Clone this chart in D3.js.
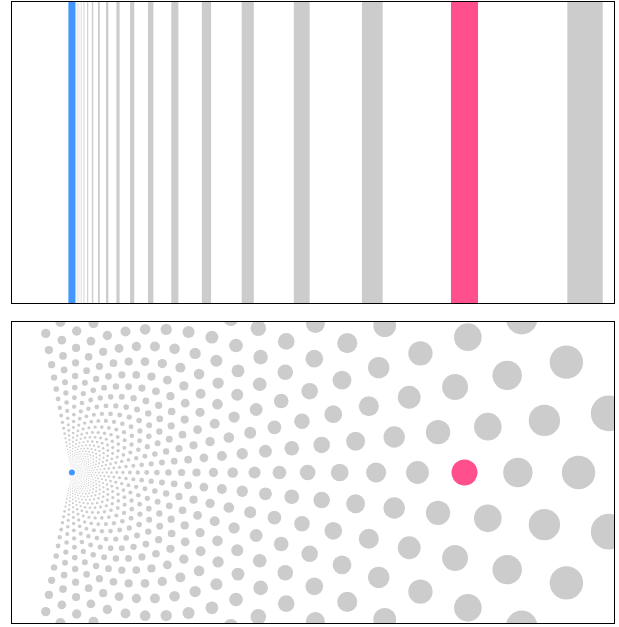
<!DOCTYPE html>
<html>
<head>
<meta charset="utf-8">
<script src="https://cdn.jsdelivr.net/npm/d3@7"></script>
<style>
html,body{margin:0;padding:0;background:#fff;}
svg{display:block;}
</style>
</head>
<body>
<svg id="chart" width="619" height="627"></svg>
<script>
// ---- data ----
// top: bars at geometric distances ratio^step from the fixed point (blue); step 0 = highlighted (pink)
const barSteps = [-20,-19,-18,-17,-16,-15,-14,-13,-12,-11,-10,-9,-8,-7,-6,-5,-4,-3,-2,-1,0,1,2];
const barRatio = 1.307;          // distance ratio between neighbouring bars
const barWidthFrac = 0.069;      // bar width as a fraction of its distance
const highlightStep = 0;

// bottom: hexagonal lattice in log-polar coordinates around the fixed point
const dotRows = [-16,-15,-14,-13,-12,-11,-10,-9,-8,-7,-6,-5,-4,-3,-2,-1,0,1,2,3,4,5,6,7,8,9,10,11,12,13,14,15,16];
const ringMin = -120, ringMax = 14;   // half-step ring indices
const ringRatio = 1.136;         // distance ratio between dots of the same row
const rowAngleDeg = 6.29;        // angle between neighbouring rows
const dotSizeFrac = 0.033;       // dot radius as a fraction of its distance

const colors = {grey: "#cccccc", blue: "#4196ff", pink: "#ff4f8c", border: "#000"};

// ---- layout ----
const svg = d3.select("#chart");
const panelX = 11.5, panelW = 603, panelH = 302;
const panels = [{y: 1.5}, {y: 321.5}];

// x scale: 0 = fixed point (10% of width), 1 = highlighted item (75% of width)
const x = d3.scaleLinear().domain([0, 1]).range([panelX + 0.1 * (panelW + 1), panelX + 0.75 * (panelW + 1)]);
const dist = d3.scaleLinear().domain([0, 1]).range([0, x(1) - x(0)]);

const defs = svg.append("defs");
panels.forEach((p, i) => {
  defs.append("clipPath").attr("id", "clip" + i)
    .append("rect").attr("x", panelX).attr("y", p.y).attr("width", panelW).attr("height", panelH);
});

// ---- top panel ----
const gTop = svg.append("g").attr("clip-path", "url(#clip0)");
const bars = barSteps.map(s => ({step: s, v: Math.pow(barRatio, s)}));
gTop.selectAll("rect.bar").data(bars.filter(d => d.step !== highlightStep)).join("rect")
  .attr("class", "bar")
  .attr("x", d => x(d.v) - barWidthFrac * dist(d.v) / 2)
  .attr("width", d => barWidthFrac * dist(d.v))
  .attr("y", panels[0].y).attr("height", panelH)
  .attr("fill", colors.grey);
gTop.selectAll("rect.hl").data(bars.filter(d => d.step === highlightStep)).join("rect")
  .attr("class", "hl")
  .attr("x", d => x(d.v) - barWidthFrac * dist(d.v) / 2)
  .attr("width", d => barWidthFrac * dist(d.v))
  .attr("y", panels[0].y).attr("height", panelH)
  .attr("fill", colors.pink);
gTop.append("rect")
  .attr("x", x(0) - 3.5).attr("width", 7)
  .attr("y", panels[0].y).attr("height", panelH)
  .attr("fill", colors.blue);

// ---- bottom panel ----
const gBottom = svg.append("g").attr("clip-path", "url(#clip1)");
const cy = panels[1].y + panelH / 2;
const halfLog = Math.log(ringRatio) / 2;
const rings = d3.range(ringMin, ringMax + 1);
const dots = [];
dotRows.forEach(k => {
  rings.forEach(m => {
    if (((m - k) % 2 + 2) % 2 !== 0) return;
    const v = Math.exp(halfLog * m);
    const a = k * rowAngleDeg * Math.PI / 180;
    dots.push({k, m, v, a});
  });
});
gBottom.selectAll("circle.dot").data(dots.filter(d => !(d.k === 0 && d.m === 0))).join("circle")
  .attr("class", "dot")
  .attr("cx", d => x(0) + dist(d.v) * Math.cos(d.a))
  .attr("cy", d => cy - dist(d.v) * Math.sin(d.a))
  .attr("r", d => dotSizeFrac * dist(d.v))
  .attr("fill", colors.grey);
gBottom.selectAll("circle.hl").data(dots.filter(d => d.k === 0 && d.m === 0)).join("circle")
  .attr("class", "hl")
  .attr("cx", d => x(0) + dist(d.v) * Math.cos(d.a))
  .attr("cy", d => cy - dist(d.v) * Math.sin(d.a))
  .attr("r", d => dotSizeFrac * dist(d.v))
  .attr("fill", colors.pink);
gBottom.append("circle")
  .attr("cx", x(0)).attr("cy", cy).attr("r", 3)
  .attr("fill", colors.blue);

// ---- borders ----
panels.forEach(p => {
  svg.append("rect").attr("x", panelX).attr("y", p.y).attr("width", panelW).attr("height", panelH)
    .attr("fill", "none").attr("stroke", colors.border).attr("stroke-width", 1);
});
</script>
</body>
</html>
